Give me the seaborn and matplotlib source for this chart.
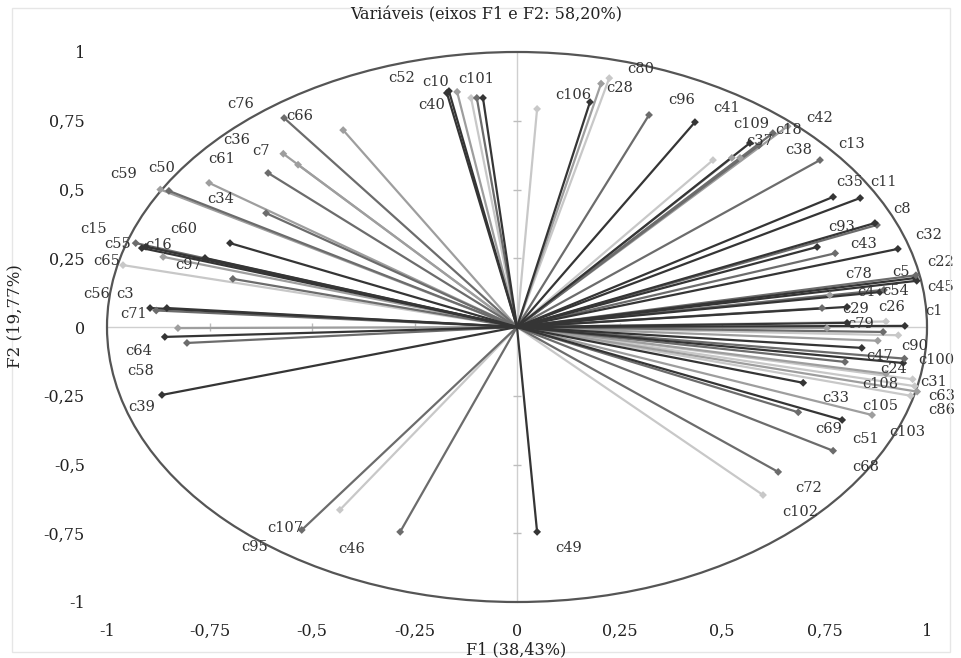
import numpy as np
import pandas as pd
import matplotlib
matplotlib.use("Agg")
import matplotlib.pyplot as plt
import seaborn as sns
from matplotlib.patches import Circle, Rectangle

# ---- data: loadings of the variables on F1 and F2 ('' = label not shown) ----
names = ["c40", "c10", "c52", "", "", "c101", "c76", "c66", "c7", "c36",
         "c61", "", "c34", "c50", "c59", "c60", "c16", "c55", "c15", "c97",
         "", "c65", "", "c56", "c3", "c71", "c64", "", "c58", "c39",
         "c107", "c95", "c46", "c49", "c102", "c72", "c68", "c69", "c51", "c105",
         "c103", "c63", "c86", "c33", "c108", "c31", "c24", "c47", "c100", "c90",
         "", "c79", "", "c1", "c29", "c26", "c4", "c54", "c78", "c45",
         "c5", "c22", "c32", "c43", "", "c93", "c8", "c35", "c11", "c13",
         "c96", "c41", "c109", "c37", "c18", "c42", "c38", "", "", "c28",
         "c80", "c106", "", "", "", ""]
f1 = [-0.171, -0.166, -0.146, -0.112, -0.098, -0.083, -0.424, -0.568, -0.570, -0.534,
      -0.607, -0.612, -0.751, -0.849, -0.870, -0.700, -0.915, -0.905, -0.930, -0.761,
      -0.863, -0.961, -0.693, -0.895, -0.854, -0.880, -0.859, -0.827, -0.805, -0.866,
      -0.525, -0.432, -0.285, 0.049, 0.600, 0.637, 0.771, 0.686, 0.793, 0.866,
      0.976, 0.970, 0.960, 0.698, 0.900, 0.965, 0.942, 0.800, 0.945, 0.841,
      0.893, 0.805, 0.756, 0.946, 0.744, 0.805, 0.885, 0.895, 0.763, 0.975,
      0.971, 0.973, 0.929, 0.776, 0.732, 0.878, 0.873, 0.771, 0.837, 0.739,
      0.322, 0.434, 0.568, 0.590, 0.624, 0.660, 0.544, 0.478, 0.524, 0.205,
      0.225, 0.178, 0.049, 0.930, 0.900, 0.880]
f2 = [0.851, 0.858, 0.855, 0.833, 0.833, 0.833, 0.716, 0.760, 0.630, 0.590,
      0.560, 0.414, 0.524, 0.495, 0.500, 0.305, 0.287, 0.292, 0.305, 0.251,
      0.255, 0.225, 0.175, 0.069, 0.069, 0.060, -0.036, -0.004, -0.058, -0.247,
      -0.738, -0.665, -0.745, -0.745, -0.611, -0.527, -0.450, -0.310, -0.338, -0.320,
      -0.235, -0.215, -0.250, -0.203, -0.170, -0.190, -0.131, -0.127, -0.115, -0.076,
      -0.018, 0.015, -0.004, 0.004, 0.069, 0.073, 0.127, 0.135, 0.116, 0.168,
      0.178, 0.188, 0.284, 0.268, 0.291, 0.371, 0.378, 0.473, 0.469, 0.607,
      0.771, 0.745, 0.669, 0.660, 0.705, 0.730, 0.615, 0.607, 0.615, 0.885,
      0.905, 0.818, 0.793, -0.030, 0.020, -0.050]

# ---- style (grey tone of each vector) ----
tones = ["D", "D", "L", "V", "M", "D", "L", "M", "L", "L",
         "M", "M", "L", "M", "L", "D", "D", "D", "M", "D",
         "L", "V", "M", "D", "D", "M", "D", "L", "M", "D",
         "M", "V", "M", "D", "V", "M", "M", "M", "D", "L",
         "L", "V", "V", "D", "L", "V", "D", "M", "M", "D",
         "M", "D", "L", "D", "M", "D", "D", "M", "L", "D",
         "D", "M", "D", "M", "D", "M", "D", "D", "D", "M",
         "M", "D", "D", "M", "M", "L", "L", "V", "L", "L",
         "V", "D", "V", "V", "V", "L"]
tone_col = {"D": "#353535", "M": "#6c6c6c", "L": "#9e9e9e", "V": "#c8c8c8"}
tone_rank = {"V": 0, "L": 1, "M": 2, "D": 3}

# label anchor positions (reference image pixels: left x, centre y from top)
label_px = {
    "c52": (388, 78), "c10": (422, 82), "c101": (458, 79), "c40": (418, 105),
    "c106": (555, 95), "c28": (606, 88), "c80": (627, 69), "c96": (668, 100),
    "c41": (713, 108), "c109": (733, 124), "c18": (775, 130), "c42": (806, 118),
    "c37": (746, 141), "c38": (785, 150), "c13": (838, 144), "c35": (836, 182),
    "c11": (870, 182), "c8": (893, 209), "c93": (828, 227), "c43": (850, 244),
    "c32": (915, 235), "c22": (927, 262), "c78": (845, 274), "c5": (892, 272),
    "c45": (927, 287), "c4": (857, 292), "c54": (882, 291), "c29": (842, 309),
    "c26": (878, 307), "c1": (925, 311), "c79": (847, 324), "c90": (901, 346),
    "c47": (866, 356), "c24": (880, 369), "c100": (918, 360), "c108": (862, 384),
    "c31": (920, 382), "c63": (928, 396), "c86": (928, 410), "c33": (822, 398),
    "c105": (862, 406), "c69": (815, 429), "c51": (852, 439), "c103": (889, 432),
    "c68": (852, 467), "c72": (795, 488), "c102": (782, 512), "c49": (555, 548),
    "c46": (338, 549), "c107": (267, 528), "c95": (241, 547), "c39": (128, 407),
    "c58": (127, 371), "c64": (125, 351), "c71": (120, 314), "c56": (83, 294),
    "c3": (116, 294), "c65": (93, 261), "c97": (175, 265), "c16": (145, 245),
    "c55": (104, 244), "c15": (80, 229), "c60": (170, 229), "c34": (207, 199),
    "c59": (110, 174), "c50": (148, 168), "c61": (208, 159), "c7": (252, 151),
    "c36": (223, 140), "c76": (227, 104), "c66": (286, 116),
}

ticks = [-1, -0.75, -0.5, -0.25, 0, 0.25, 0.5, 0.75, 1]
tick_labels = ["-1", "-0,75", "-0,5", "-0,25", "0", "0,25", "0,5", "0,75", "1"]

# ---- figure ----
sns.set_theme(style="white")
plt.rcParams["font.family"] = ["DejaVu Serif"]

W, H = 961, 658
fig = plt.figure(figsize=(W / 100, H / 100), dpi=100)
fig.patch.set_facecolor("white")
ax = fig.add_axes([107 / W, 56 / H, 820 / W, 550 / H])

n = len(names)
ids = [f"v{i}" for i in range(n)]
pal = {ids[i]: tone_col[tones[i]] for i in range(n)}
order = sorted(ids, key=lambda k: tone_rank[tones[int(k[1:])]])

df = pd.DataFrame({
    "id": np.repeat(ids, 2),
    "F1": np.ravel(np.column_stack([np.zeros(n), f1])),
    "F2": np.ravel(np.column_stack([np.zeros(n), f2])),
})
end_df = pd.DataFrame({"id": ids, "F1": f1, "F2": f2})

# central axes and their tick marks
ax.axhline(0, color="#cfcfcf", lw=1.0, zorder=0)
ax.axvline(0, color="#cfcfcf", lw=1.0, zorder=0)
inner = [t for t in ticks if t not in (-1, 0, 1)]
ax.scatter(inner, np.zeros(len(inner)), marker="|", s=40, color="#bdbdbd", lw=1, zorder=0)
ax.scatter(np.zeros(len(inner)), inner, marker="_", s=40, color="#bdbdbd", lw=1, zorder=0)

# correlation circle
ax.add_patch(Circle((0, 0), 1, fill=False, ec="#555555", lw=1.6, clip_on=False, zorder=1))

sns.lineplot(data=df, x="F1", y="F2", hue="id", hue_order=order, palette=pal,
             estimator=None, sort=False, legend=False, lw=1.6, ax=ax, zorder=2)
sns.scatterplot(data=end_df, x="F1", y="F2", hue="id", hue_order=order, palette=pal,
                marker="D", s=16, linewidth=0, legend=False, ax=ax, zorder=3)

for line in ax.lines:
    line.set_clip_on(False)

ax.set_xlim(-1, 1)
ax.set_ylim(-1, 1)
ax.set_xticks(ticks, tick_labels)
ax.set_yticks(ticks, tick_labels)
ax.tick_params(axis="x", length=0, pad=15, labelsize=11.5, colors="#222222")
ax.tick_params(axis="y", length=0, pad=16, labelsize=11.5, colors="#222222")
ax.set_xlabel("")
ax.set_ylabel("")
for s in ax.spines.values():
    s.set_visible(False)
ax.patch.set_alpha(0)

for name, (px, py) in label_px.items():
    ax.annotate(name, xy=(px, H - py), xycoords="figure pixels", ha="left",
                va="center", fontsize=10.5, color="#333333", annotation_clip=False)

fig.text(486 / W, 1 - 15 / H, "Variáveis (eixos F1 e F2: 58,20%)", ha="center",
         va="center", fontsize=11.5, color="#222222")
fig.text(516 / W, 1 - 650 / H, "F1 (38,43%)", ha="center", va="center",
         fontsize=11.5, color="#222222")
fig.text(15 / W, 1 - 316 / H, "F2 (19,77%)", ha="center", va="center",
         rotation=90, fontsize=12, color="#222222")

fig.add_artist(Rectangle((12 / W, 1 - 652 / H), 938 / W, 644 / H, transform=fig.transFigure,
                         fill=False, ec="#e6e6e6", lw=1))

fig.savefig("out.png", dpi=100)
